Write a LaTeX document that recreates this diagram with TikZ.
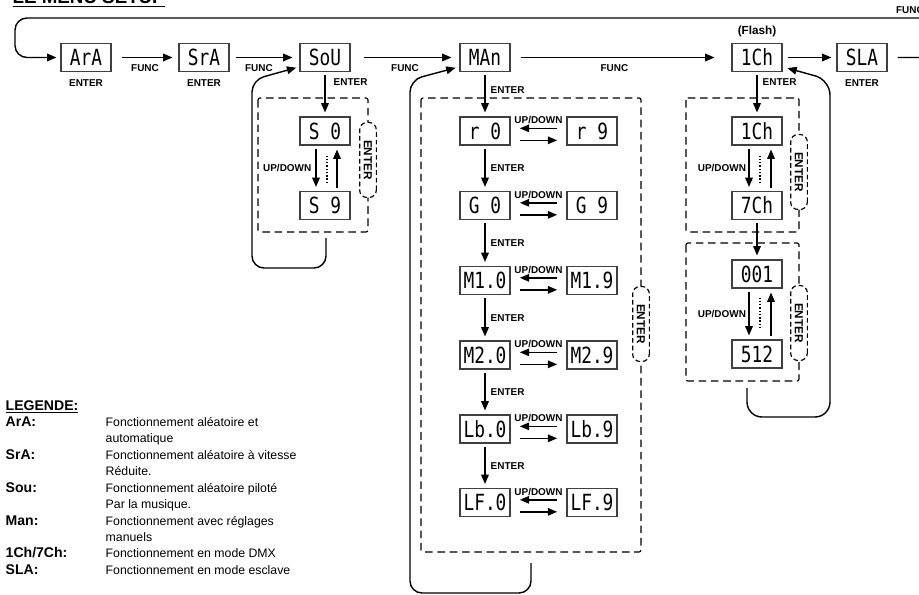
\documentclass[tikz,border=0pt]{standalone}
\usepackage{fontspec}
\setmainfont{Liberation Sans}
\newfontfamily\lcdfuente[FakeStretch=0.8]{DejaVu Sans Mono}
\usetikzlibrary{arrows.meta,positioning}

\tikzset{
  pantalla/.style={draw=black!75, line width=0.9pt, minimum width=1.5cm, minimum height=0.84cm,
    inner sep=0pt, font=\lcdfuente\fontsize{19}{19}\selectfont},
  etiq/.style={font=\bfseries\fontsize{8.5}{10}\selectfont, inner sep=2pt},
  marco/.style={line width=1pt, dash pattern=on 6.5pt off 4pt, rounded corners=0.06cm},
  ovalo/.style={draw, line width=1pt, dash pattern=on 4pt off 2.5pt, fill=white,
    rounded corners=0.22cm, rotate=-90, minimum width=2.25cm, minimum height=0.5cm,
    inner sep=1pt, font=\bfseries\fontsize{10}{10}\selectfont},
  puntos/.style={line width=1pt, dash pattern=on 1.2pt off 1.6pt},
  vert/.style={->, shorten <=0.09cm, shorten >=0.12cm},
  horiz/.style={->, shorten <=0.29cm, shorten >=0.28cm},
}
\newcommand{\clave}[1]{{\fontsize{12}{14}\selectfont\bfseries #1}}

\begin{document}
\begin{tikzpicture}[x=0.03cm, y=-0.03cm, line width=1.2pt, >={Triangle[length=8pt,width=6.5pt]}]
    % marco de la imagen
    \useasboundingbox (0,0) rectangle (919,595);
    \clip (0,0) rectangle (919,595);

    % título (cortado arriba)
    \node[anchor=base west, inner sep=0pt, font=\bfseries\fontsize{16}{16}\selectfont] (titulo) at (12,4) {\underline{LE MENU SETUP}};

    %—————— fila principal ——————
    \node[pantalla] (ara) at (86,57.5)  {ArA};
    \node[pantalla] (sra) at (204,57.5) {SrA};
    \node[pantalla] (sou) at (325,57.5) {SoU};
    \node[pantalla] (man) at (485,57.5) {MAn};
    \node[pantalla] (cha) at (757,57.5) {1Ch};
    \node[pantalla] (sla) at (862,57.5) {SLA};

    \node[etiq, below=0.13cm of ara] (entA) {ENTER};
    \node[etiq, below=0.13cm of sra] (entB) {ENTER};
    \node[etiq, below=0.13cm of sla] (entC) {ENTER};
    \node[etiq, above=0.1cm of cha, font=\bfseries\fontsize{10}{10}\selectfont] (flash) {(Flash)};

    % flechas FUNC
    \draw[->, shorten <=0.3cm, shorten >=0.18cm] (ara) -- (sra) node[midway, below=3pt, etiq] (func1) {FUNC};
    \draw[->, shorten <=0.18cm, shorten >=0.21cm] (sra) -- (sou) node[pos=0.42, below=3pt, etiq] (func2) {FUNC};
    \draw[->, shorten <=0.39cm, shorten >=0.24cm] (sou) -- (man) node[midway, below=3pt, etiq] (func3) {FUNC};
    \draw[->, shorten <=0.3cm, shorten >=0.51cm] (man) -- (cha) node[pos=0.47, below=3pt, etiq] (func4) {FUNC};
    \draw[->, shorten <=0.15cm, shorten >=0.15cm] (cha) -- (sla);

    % vuelta general por arriba
    \draw[->, shorten >=0.12cm, rounded corners=0.36cm] ([xshift=0.3cm]sla.east) -- (935,57.5) -- (935,18) -- (15,18) -- (15,57.5) -- (ara.west);
    \node[etiq, anchor=west] (funcS) at (893,10) {FUNC};

    %—————— bloque SoU ——————
    \draw[marco] (258,98) rectangle (368,232);
    \node[pantalla] (sz) at (325,131)   {S 0};
    \node[pantalla] (sn) at (325,205.5) {S 9};
    \draw[vert] (sou) -- (sz) node[pos=0.22, right=0.17cm, etiq] (entS) {ENTER};
    \draw[vert] ([xshift=-0.27cm]sz.south) -- ([xshift=-0.27cm]sn.north) node[midway, left=0.05cm, etiq] (udS) {UP/DOWN};
    \draw[vert] ([xshift=0.36cm]sn.north) -- ([xshift=0.36cm]sz.south);
    \draw[puntos] ([xshift=0.06cm, yshift=-0.3cm]sz.south) -- ([xshift=0.06cm, yshift=-1.1cm]sz.south);
    \node[ovalo] (ovS) at (368,160) {ENTER};
    % regreso a SoU
    \coordinate (retS) at (326,238);
    \draw[->, shorten >=0.1cm, rounded corners=0.36cm] (retS) -- (326,268) -- (252,268) -- (252,80) -- (sou.200);

    %—————— bloque MAn ——————
    \draw[marco] (421,98) rectangle (641,552);
    \node[pantalla] (r0) at (485,131)   {r 0};
    \node[pantalla] (r9) at (592,131)   {r 9};
    \node[pantalla] (g0) at (485,205.5) {G 0};
    \node[pantalla] (g9) at (592,205.5) {G 9};
    \node[pantalla] (ma0) at (485,280.5) {M1.0};
    \node[pantalla] (ma9) at (592,280.5) {M1.9};
    \node[pantalla] (mb0) at (485,355)   {M2.0};
    \node[pantalla] (mb9) at (592,355)   {M2.9};
    \node[pantalla] (lb0) at (485,429)   {Lb.0};
    \node[pantalla] (lb9) at (592,429)   {Lb.9};
    \node[pantalla] (lf0) at (485,502.5) {LF.0};
    \node[pantalla] (lf9) at (592,502.5) {LF.9};

    % ENTER hacia abajo
    \draw[vert] (man) -- (r0)   node[pos=0.4, right=0.08cm, etiq] (entM) {ENTER};
    \draw[vert] (r0) -- (g0)    node[midway, right=0.08cm, etiq] (entM1) {ENTER};
    \draw[vert] (g0) -- (ma0)   node[midway, right=0.08cm, etiq] (entM2) {ENTER};
    \draw[vert] (ma0) -- (mb0)  node[midway, right=0.08cm, etiq] (entM3) {ENTER};
    \draw[vert] (mb0) -- (lb0)  node[midway, right=0.08cm, etiq] (entM4) {ENTER};
    \draw[vert] (lb0) -- (lf0)  node[midway, right=0.08cm, etiq] (entM5) {ENTER};

    % UP/DOWN entre columnas
    \draw[horiz] ([yshift=0.08cm]r9.west) -- ([yshift=0.08cm]r0.east) node[midway, above=1pt, etiq] (udR) {UP/DOWN};
    \draw[horiz] ([yshift=-0.28cm]r0.east) -- ([yshift=-0.28cm]r9.west);
    \draw[horiz] ([yshift=0.08cm]g9.west) -- ([yshift=0.08cm]g0.east) node[midway, above=1pt, etiq] (udG) {UP/DOWN};
    \draw[horiz] ([yshift=-0.28cm]g0.east) -- ([yshift=-0.28cm]g9.west);
    \draw[horiz] ([yshift=0.08cm]ma9.west) -- ([yshift=0.08cm]ma0.east) node[midway, above=1pt, etiq] (udA) {UP/DOWN};
    \draw[horiz] ([yshift=-0.28cm]ma0.east) -- ([yshift=-0.28cm]ma9.west);
    \draw[horiz] ([yshift=0.08cm]mb9.west) -- ([yshift=0.08cm]mb0.east) node[midway, above=1pt, etiq] (udB) {UP/DOWN};
    \draw[horiz] ([yshift=-0.28cm]mb0.east) -- ([yshift=-0.28cm]mb9.west);
    \draw[horiz] ([yshift=0.08cm]lb9.west) -- ([yshift=0.08cm]lb0.east) node[midway, above=1pt, etiq] (udL) {UP/DOWN};
    \draw[horiz] ([yshift=-0.28cm]lb0.east) -- ([yshift=-0.28cm]lb9.west);
    \draw[horiz] ([yshift=0.08cm]lf9.west) -- ([yshift=0.08cm]lf0.east) node[midway, above=1pt, etiq] (udF) {UP/DOWN};
    \draw[horiz] ([yshift=-0.28cm]lf0.east) -- ([yshift=-0.28cm]lf9.west);

    \node[ovalo] (ovM) at (641,324) {ENTER};
    % regreso a MAn
    \coordinate (retM) at (531,563);
    \draw[->, shorten >=0.12cm, rounded corners=0.36cm] (retM) -- (531,593) -- (410,593) -- (410,80) -- (man.200);

    %—————— bloque 1Ch / DMX ——————
    \draw[marco] (686,98) rectangle (799,232);
    \draw[marco] (686,243) rectangle (799,381);
    \node[pantalla] (chi) at (757,131)   {1Ch};
    \node[pantalla] (chs) at (757,205.5) {7Ch};
    \node[pantalla] (d1)  at (757,274)   {001};
    \node[pantalla] (d512) at (757,354)  {512};

    \draw[vert] (cha) -- (chi) node[pos=0.22, right=0.08cm, etiq] (entCh) {ENTER};
    \draw[vert] ([xshift=-0.24cm]chi.south) -- ([xshift=-0.24cm]chs.north) node[midway, left=0cm, etiq] (udC) {UP/DOWN};
    \draw[vert] ([xshift=0.42cm]chs.north) -- ([xshift=0.42cm]chi.south);
    \draw[puntos] ([xshift=0.09cm, yshift=-0.3cm]chi.south) -- ([xshift=0.09cm, yshift=-1.1cm]chi.south);
    \draw[vert] (chs) -- (d1);
    \draw[vert] ([xshift=-0.24cm]d1.south) -- ([xshift=-0.24cm]d512.north) node[midway, left=0cm, etiq] (udD) {UP/DOWN};
    \draw[vert] ([xshift=0.42cm]d512.north) -- ([xshift=0.42cm]d1.south);
    \draw[puntos] ([xshift=0.09cm, yshift=-0.27cm]d1.south) -- ([xshift=0.09cm, yshift=-1.2cm]d1.south);

    \node[ovalo] (ovC1) at (799,172) {ENTER};
    \node[ovalo] (ovC2) at (799,323) {ENTER};
    % regreso a 1Ch
    \coordinate (retC) at (747,388);
    \draw[->, shorten >=0.15cm, rounded corners=0.45cm] (retC) -- (747,417) -- (830,417) -- (830,80) -- (cha.-20);

    %—————— leyenda ——————
    \node[anchor=north west, inner sep=0pt, font=\fontsize{10.5}{14}\selectfont] (leyenda) at (5,398) {%
      \begin{tabular}{@{}p{3cm}@{}l@{}}
        \multicolumn{2}{@{}l}{\clave{\underline{LEGENDE:}}}\\
        \clave{ArA:}     & Fonctionnement aléatoire et\\
                         & automatique\\
        \clave{SrA:}     & Fonctionnement aléatoire à vitesse\\
                         & Réduite.\\
        \clave{Sou:}     & Fonctionnement aléatoire piloté\\
                         & Par la musique.\\
        \clave{Man:}     & Fonctionnement avec réglages\\
                         & manuels\\
        \clave{1Ch/7Ch:} & Fonctionnement en mode DMX\\
        \clave{SLA:}     & Fonctionnement en mode esclave
      \end{tabular}};
\end{tikzpicture}
\end{document}
